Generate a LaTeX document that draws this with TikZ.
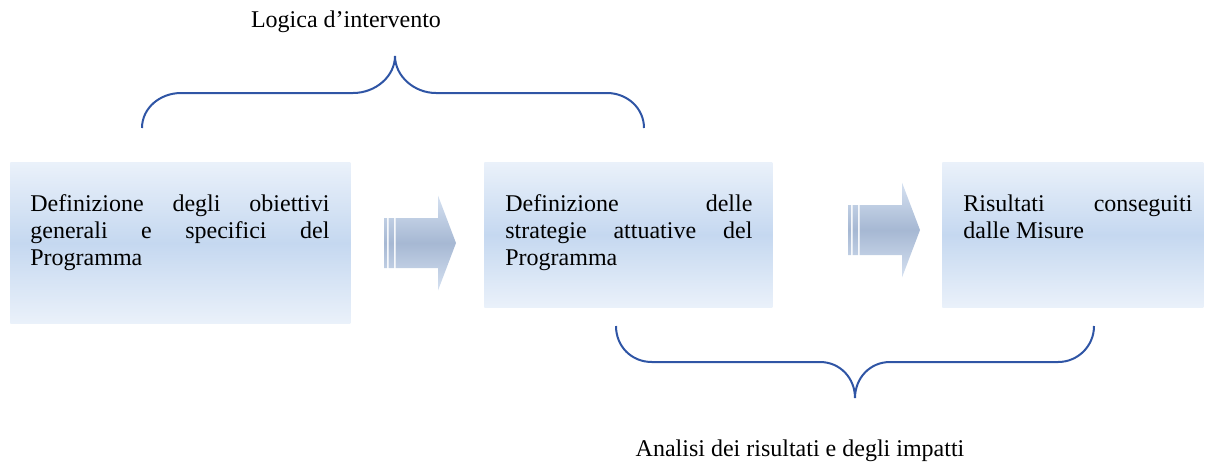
\documentclass[tikz,border=0pt]{standalone}
\usepackage{fontspec}
\setmainfont{Liberation Serif}
\usetikzlibrary{
  positioning,
  calc
}
\hyphenpenalty=10000
\exhyphenpenalty=10000
\tolerance=10000
\definecolor{BraceBlue}{RGB}{47,85,165}
\definecolor{StageLight}{RGB}{234,241,250}
\definecolor{StageMid}{RGB}{197,216,240}
\definecolor{ArrowLight}{RGB}{214,225,241}
\definecolor{ArrowMid}{RGB}{166,184,211}
\tikzset{
  stage/.style={
    rectangle,
    inner sep=0pt,
    anchor=north west,
    top color=StageLight,
    bottom color=StageLight,
    middle color=StageMid
  },
  stagetext/.style={
    inner sep=0pt,
    anchor=north west,
    align=justify,
    font=\fontsize{12}{13.6}\selectfont
  },
  captiontext/.style={inner sep=0pt,font=\fontsize{12}{13.6}\selectfont},
  bracket/.style={draw=BraceBlue,line width=1pt},
  arrowfill/.style={top color=ArrowLight,bottom color=ArrowLight,middle color=ArrowMid}
}
\newcommand{\blockarrow}[2]{%
  \shade[arrowfill] (#1,#2-25) rectangle ++(3,50)
    (#1+4.5,#2-25) rectangle ++(5.5,50)
    (#1+11.5,#2-25) -- ++(42.5,0) -- ++(0,-22.5) -- (#1+72,#2)
    -- (#1+54,#2+47.5) -- ++(0,-22.5) -- (#1+11.5,#2+25) -- cycle;}
\begin{document}
\begin{tikzpicture}[x=0.5pt,y=-0.5pt]
  \useasboundingbox (0,0) rectangle (1205,473);

  \node[stage,minimum width=170pt,minimum height=80.5pt] (obiettivi) at (10,162) {};
  \node[stage,minimum width=144pt,minimum height=72.5pt] (strategie) at (484,162) {};
  \node[stage,minimum width=130.5pt,minimum height=72.5pt] (risultati) at (942,162) {};

  \node[stagetext,text width=149.5pt] (obiettivi-txt) at ([xshift=10pt,yshift=-15pt]obiettivi.north west)
    {\strut Definizione degli obiettivi generali e specifici del Programma};
  \node[stagetext,text width=123.5pt] (strategie-txt) at ([xshift=10.5pt,yshift=-15pt]strategie.north west)
    {\strut Definizione delle strategie attuative del Programma};
  \node[stagetext,text width=114.5pt] (risultati-txt) at ([xshift=10.5pt,yshift=-15pt]risultati.north west)
    {\strut Risultati conseguiti dalle Misure};

  \blockarrow{384}{243}
  \blockarrow{848}{230}

  \draw[bracket] (142,128) .. controls (142,108) and (160,93) .. (181,93) -- (353,93)
    .. controls (376,93) and (395,76) .. (395,56)
    .. controls (395,76) and (414,93) .. (436,93) -- (607,93)
    .. controls (627,93) and (644,108) .. (644,128);
  \draw[bracket] (616,326) .. controls (616,346) and (631,362) .. (652,362) -- (820,362)
    .. controls (840,362) and (855,378) .. (855,398)
    .. controls (855,378) and (870,362) .. (890,362) -- (1058,362)
    .. controls (1078,362) and (1094,346) .. (1094,326);

  \node[captiontext,anchor=base] (logica) at (346,27) {Logica d’intervento};
  \node[captiontext,anchor=base] (analisi) at (800,456) {Analisi dei risultati e degli impatti};
\end{tikzpicture}
\end{document}
